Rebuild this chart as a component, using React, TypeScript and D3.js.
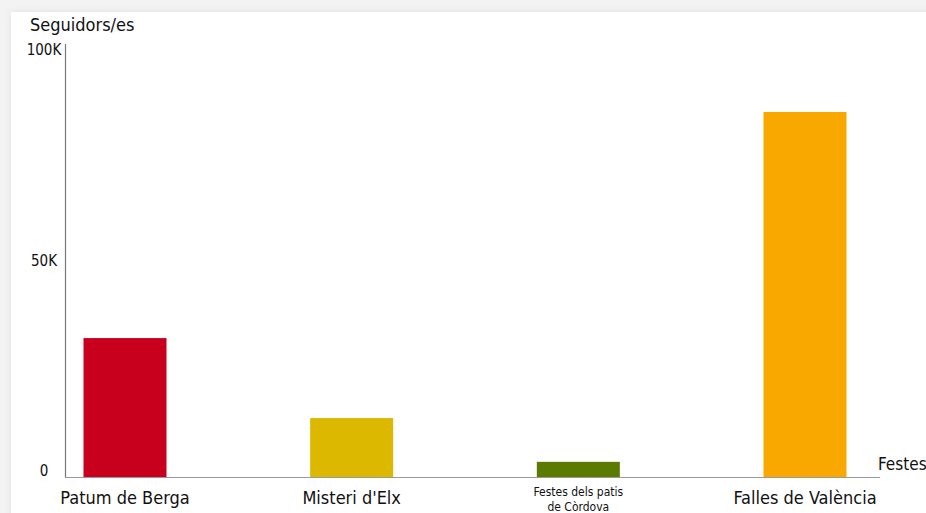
import React from "react";
import * as d3 from "d3";

const categories = ["Patum de Berga", "Misteri d'Elx", "Festes dels patis|de Còrdova", "Falles de València"];
const followers = [33000, 14000, 3600, 86700];
const barColors = ["#c8001e", "#dcb800", "#5a7a00", "#f9a800"];
const yTicks = [0, 50000, 100000];
const yTickLabels = ["0", "50K", "100K"];

const W = 926;
const H = 513;
const FONT = "'DejaVu Sans Condensed', 'Liberation Sans Narrow', 'DejaVu Sans', sans-serif";

export default function App() {
  const y = d3.scaleLinear().domain([0, 100000]).range([477, 56]);
  const x = d3.scalePoint<string>().domain(categories).range([125, 805]);
  const barW = 83;
  return (
    <svg width={W} height={H} style={{ position: "fixed", left: 0, top: 0, display: "block" }}>
      <defs>
        <filter id="sh" x="-5%" y="-5%" width="110%" height="110%">
          <feDropShadow dx="0" dy="0" stdDeviation="3" floodColor="#000" floodOpacity="0.08" />
        </filter>
      </defs>
      <rect x={0} y={0} width={W} height={H} fill="#f3f3f3" />
      <rect x={11} y={12} width={W + 20} height={H + 20} fill="#ffffff" filter="url(#sh)" />
      <text x={30} y={31} fontFamily={FONT} fontSize={18} fill="#111">Seguidors/es</text>
      {categories.map((c, i) => (
        <rect key={c} x={(x(c) as number) - barW / 2} y={y(followers[i])} width={barW} height={y(0) - y(followers[i])} fill={barColors[i]} />
      ))}
      <line x1={65.5} x2={65.5} y1={44} y2={477.5} stroke="#777" strokeWidth={1.2} />
      <line x1={65} x2={880} y1={477.5} y2={477.5} stroke="#999" strokeWidth={1.2} />
      {yTicks.map((t, i) => (
        <text key={t} x={44} y={y(t) - 1} textAnchor="middle" fontFamily={FONT} fontSize={15} fill="#111">{yTickLabels[i]}</text>
      ))}
      {categories.map((c) => {
        const parts = c.split("|");
        const cx = x(c) as number;
        if (parts.length > 1) {
          return (
            <text key={c} x={cx} textAnchor="middle" fontFamily={FONT} fontSize={12} fill="#111">
              {parts.map((p, j) => (
                <tspan key={j} x={cx} y={496 + j * 15}>{p}</tspan>
              ))}
            </text>
          );
        }
        return (
          <text key={c} x={cx} y={504} textAnchor="middle" fontFamily={FONT} fontSize={18} fill="#111">{c}</text>
        );
      })}
      <text x={878} y={470} fontFamily={FONT} fontSize={17} fill="#111">Festes</text>
    </svg>
  );
}
